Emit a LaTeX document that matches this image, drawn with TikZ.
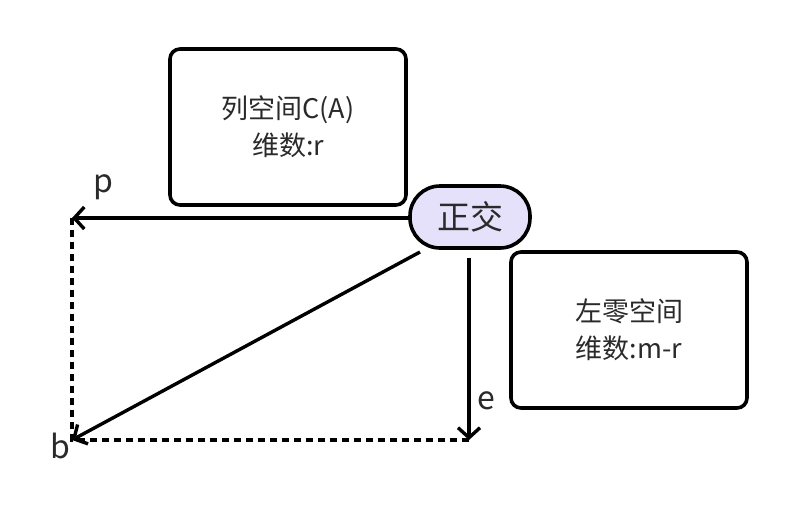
\documentclass[tikz,border=0pt]{standalone}
\usepackage{fontspec}
\setmainfont{Noto Sans CJK SC}
\usetikzlibrary{arrows.meta}

\definecolor{pillfill}{HTML}{E6E1FA}
\definecolor{inktext}{HTML}{2A2A2A}
\tikzset{
  spacebox/.style={draw,line width=3.6pt,rounded corners=10pt,minimum width=236pt,minimum height=156pt,align=center,text=inktext,font=\fontsize{27}{37}\selectfont},
  tagpill/.style={draw,line width=3.6pt,rounded corners=30pt,fill=pillfill,minimum width=120pt,minimum height=62pt,text=inktext,font=\fontsize{33}{34}\selectfont},
  vec/.style={line width=3.4pt,-{Straight Barb[length=10pt,width=22pt,line width=3.4pt]}},
  proj/.style={line width=3.4pt,dash pattern=on 6.5pt off 5.5pt},
  lbl/.style={font=\fontsize{32}{32}\selectfont,text=inktext,inner sep=0pt}
}

\begin{document}
\begin{tikzpicture}[x=1pt,y=-1pt]
   \useasboundingbox (0,0) rectangle (798,520);
   \node[spacebox] (colsp) at (288,127) {列空间C(A)\\维数:r};
   \node[spacebox] (leftnull) at (629,330) {左零空间\\维数:m-r};
   \node[tagpill] (orth) at (470,217) {正交};
   \coordinate (p) at (72,218);
   \coordinate (b) at (72,440);
   \coordinate (e) at (469,440);
   \coordinate (orthW) at (410,218);
   \coordinate (orthS) at (469,258);
   \coordinate (orthSW) at (420,252);
   % projections
   \draw[proj] (p) -- (b) -- (e);
   \draw[vec] (orthW) -- (p);
   \draw[vec] (orthS) -- (e);
   \draw[vec] (orthSW) -- (b);
   \node[lbl] (plbl) at (103,187) {p};
   \node[lbl] (blbl) at (60,446) {b};
   \node[lbl] (elbl) at (486,401) {e};
\end{tikzpicture}
\end{document}
